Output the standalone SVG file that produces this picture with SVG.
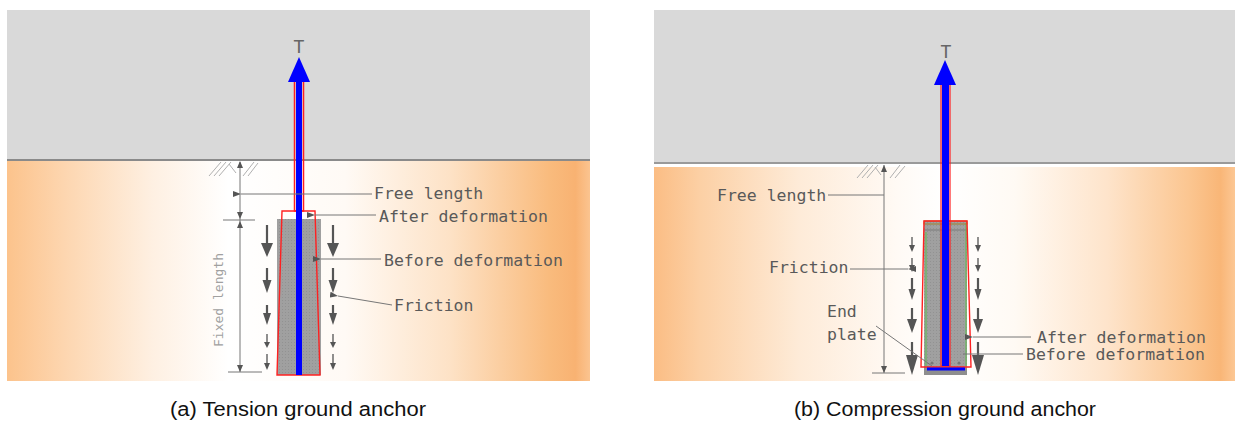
<svg xmlns="http://www.w3.org/2000/svg" width="1235" height="421" viewBox="0 0 1235 421">
  <defs>
    <linearGradient id="soilA" x1="0" y1="0" x2="1" y2="0">
      <stop offset="0" stop-color="#fcc38c"/>
      <stop offset="0.1" stop-color="#fdd6b0"/>
      <stop offset="0.25" stop-color="#fef0e2"/>
      <stop offset="0.38" stop-color="#ffffff"/>
      <stop offset="0.58" stop-color="#fffaf5"/>
      <stop offset="0.76" stop-color="#fde2c6"/>
      <stop offset="0.93" stop-color="#f9bb7d"/>
      <stop offset="0.975" stop-color="#f8b272"/>
      <stop offset="1" stop-color="#fbc490"/>
    </linearGradient>
    <linearGradient id="soilB" x1="0" y1="0" x2="1" y2="0">
      <stop offset="0" stop-color="#fbbd84"/>
      <stop offset="0.08" stop-color="#fcd0a5"/>
      <stop offset="0.25" stop-color="#feebd8"/>
      <stop offset="0.42" stop-color="#fffaf5"/>
      <stop offset="0.5" stop-color="#ffffff"/>
      <stop offset="0.62" stop-color="#fffaf4"/>
      <stop offset="0.78" stop-color="#fee4cb"/>
      <stop offset="0.92" stop-color="#fbc691"/>
      <stop offset="0.975" stop-color="#f9b677"/>
      <stop offset="1" stop-color="#fcc794"/>
    </linearGradient>
    <pattern id="grout" width="3" height="3" patternUnits="userSpaceOnUse">
      <rect width="3" height="3" fill="#a0a0a0"/>
      <rect width="1" height="1" fill="#929292"/>
    </pattern>
    <marker id="lead" viewBox="0 0 8 6" refX="0" refY="3" markerWidth="8" markerHeight="6" orient="auto-start-reverse" markerUnits="userSpaceOnUse">
      <path d="M0,3 L8,0 L8,6 Z" fill="#555"/>
    </marker>
  </defs>
  <style>
    .lbl { font-family: "DejaVu Sans Mono", "Liberation Mono", monospace; font-size: 16.5px; fill: #595959; }
    .tt { font-family: "DejaVu Sans Mono", "Liberation Mono", monospace; font-size: 18px; fill: #666; text-anchor: middle; }
    .cap { font-family: "Liberation Sans", Arial, sans-serif; font-size: 19.5px; fill: #111; }
    .ln { stroke: #777; stroke-width: 1; fill: none; }
    .hatch { stroke: #b0b0b0; stroke-width: 1; fill: none; }
    .fa { stroke: #555; stroke-width: 2.2; fill: none; }
    .fd { stroke: #555; stroke-width: 1.3; fill: none; }
    .fh { fill: #555; }
    .red { stroke: #ff2020; stroke-width: 1.4; fill: none; }
    .rod { fill: #0000ff; }
  </style>

  <!-- (a) tension anchor: sky and soil -->
  <g id="panel-a">
    <rect x="7" y="10" width="583" height="150" fill="#d9d9d9"/>
    <rect x="7" y="160" width="583" height="221" fill="url(#soilA)"/>
    <line x1="7" y1="160" x2="590" y2="160" stroke="#8a8a8a" stroke-width="2"/>
    <path class="hatch" d="M209,176 L221,162 M214,176 L226,162 M219,176 L231,162 M229,164 L236,173 M243,176 L254,162 M248,176 L258,163"/>
  </g>

  <!-- (a) grout body, tendon and pull-out force -->
  <g id="anchor-a">
    <rect x="277" y="219" width="44" height="156" fill="url(#grout)"/>
    <polygon class="red" points="282,211 315,211 320,375 277,375"/>
    <rect x="294.5" y="80" width="9" height="131" fill="none" stroke="#ff2020" stroke-width="1.5"/>
    <rect class="rod" x="296" y="80" width="6" height="295"/>
    <polygon class="rod" points="299,57 310,82 288,82"/>
    <text class="tt" x="299" y="53">T</text>
  </g>

  <!-- (a) friction arrows -->
  <g id="friction-a">
    <path class="fa" d="M267,225 V245 M333,225 V245"/>
    <polygon class="fh" points="261,243 273,243 267,257"/>
    <polygon class="fh" points="327,243 339,243 333,257"/>
    <path class="fa" d="M267,268 V282 M333,268 V282"/>
    <polygon class="fh" points="262.5,280 271.5,280 267,293"/>
    <polygon class="fh" points="328.5,280 337.5,280 333,293"/>
    <path class="fa" d="M267,305 V315 M333,305 V315"/>
    <polygon class="fh" points="263,313 271,313 267,325"/>
    <polygon class="fh" points="329,313 337,313 333,325"/>
    <path class="fd" d="M267,334 V343 M333,334 V343"/>
    <polygon class="fh" points="264,342 270,342 267,348"/>
    <polygon class="fh" points="330,342 336,342 333,348"/>
    <path class="fd" d="M267,354 V364 M333,354 V364"/>
    <polygon class="fh" points="264,363 270,363 267,370"/>
    <polygon class="fh" points="330,363 336,363 333,370"/>
  </g>

  <!-- (a) labels -->
  <g id="labels-a">
    <text class="lbl" x="374" y="199">Free length</text>
    <text class="lbl" x="379" y="222">After deformation</text>
    <text class="lbl" x="384" y="266">Before deformation</text>
    <text class="lbl" x="394" y="311">Friction</text>
    <text transform="translate(223,300) rotate(-90)" text-anchor="middle" font-family="DejaVu Sans Mono, Liberation Mono, monospace" font-size="13" fill="#a0a0a0">Fixed length</text>
    <text class="cap" x="170" y="416" textLength="256" lengthAdjust="spacingAndGlyphs">(a) Tension ground anchor</text>
  </g>

  <!-- (b) compression anchor: sky and soil -->
  <g id="panel-b">
    <rect x="654" y="10" width="581" height="153" fill="#d9d9d9"/>
    <rect x="654" y="163" width="581" height="4" fill="#ffffff"/>
    <rect x="654" y="167" width="581" height="214" fill="url(#soilB)"/>
    <line x1="654" y1="163" x2="1235" y2="163" stroke="#9a9a9a" stroke-width="2"/>
    <path class="hatch" d="M857,178 L868,165 M862,178 L873,165 M867,178 L878,165 M875,167 L881,175 M890,178 L900,165 M895,178 L905,166"/>
  </g>

  <!-- (b) grout body, tendon, end plate and pull-out force -->
  <g id="anchor-b">
    <rect x="924" y="221" width="43" height="154" fill="url(#grout)"/>
    <rect x="924" y="367" width="43" height="8" fill="#8e8e8e"/>
    <line x1="924" y1="230" x2="967" y2="230" stroke="#7a7a7a" stroke-width="1"/>
    <path d="M926,232 V366 M966,223 V366" stroke="#5cbf4c" stroke-width="1" fill="none"/>
    <rect x="924" y="221" width="43" height="3" fill="none" stroke="#a08030" stroke-width="1"/>
    <polygon class="red" points="924,221 967,221 971,367 921,367"/>
    <rect x="941" y="82" width="9" height="284" fill="none" stroke="#ff2020" stroke-width="1.2"/>
    <rect class="rod" x="942" y="82" width="7" height="284"/>
    <rect class="rod" x="927" y="367.5" width="38" height="3"/>
    <circle cx="932" cy="363" r="1.5" fill="#777"/>
    <circle cx="959" cy="363" r="1.5" fill="#777"/>
    <polygon class="rod" points="945,60 956,85 934,85"/>
    <text class="tt" x="946" y="58">T</text>
  </g>

  <!-- (b) friction arrows -->
  <g id="friction-b">
    <path class="fd" d="M912,237 V246 M978,237 V246"/>
    <polygon class="fh" points="909,245 915,245 912,252"/>
    <polygon class="fh" points="975,245 981,245 978,252"/>
    <path class="fd" d="M912,258 V266 M978,258 V266"/>
    <polygon class="fh" points="909,265 915,265 912,272"/>
    <polygon class="fh" points="975,265 981,265 978,272"/>
    <path class="fa" d="M912,278 V290 M978,278 V290"/>
    <polygon class="fh" points="908.5,289 915.5,289 912,300"/>
    <polygon class="fh" points="974.5,289 981.5,289 978,300"/>
    <path class="fa" d="M912,308 V320 M978,308 V320"/>
    <polygon class="fh" points="907,319 917,319 912,333"/>
    <polygon class="fh" points="973,319 983,319 978,333"/>
    <path class="fa" d="M912,342 V356 M978,342 V356"/>
    <polygon class="fh" points="906,355 918,355 912,375"/>
    <polygon class="fh" points="972,355 984,355 978,375"/>
  </g>

  <!-- (b) labels -->
  <g id="labels-b">
    <text class="lbl" x="717" y="201">Free length</text>
    <text class="lbl" x="769" y="273">Friction</text>
    <text class="lbl" x="827" y="317">End</text>
    <text class="lbl" x="827" y="340">plate</text>
    <text class="lbl" x="1037" y="343">After deformation</text>
    <text class="lbl" x="1026" y="360">Before deformation</text>
    <text class="cap" x="794" y="416" textLength="302" lengthAdjust="spacingAndGlyphs">(b) Compression ground anchor</text>
  </g>

  <!-- leaders and dimension lines -->
  <g id="connectors">
    <!-- (a) free / fixed length dimensions -->
    <line class="ln" x1="240" y1="162" x2="240" y2="372"/>
    <path d="M240,161 L237,168 L243,168 Z M240,219 L237,212 L243,212 Z M240,221 L237,228 L243,228 Z M240,372 L237,365 L243,365 Z" fill="#555"/>
    <line class="ln" x1="223" y1="220" x2="255" y2="220"/>
    <line class="ln" x1="228" y1="372" x2="262" y2="372"/>
    <line class="ln" x1="241" y1="194" x2="372" y2="194" marker-start="url(#lead)"/>
    <line class="ln" x1="315" y1="215" x2="376" y2="215" marker-start="url(#lead)"/>
    <line class="ln" x1="321" y1="259" x2="381" y2="259" marker-start="url(#lead)"/>
    <line class="ln" x1="338" y1="296" x2="392" y2="305" marker-start="url(#lead)"/>
    <!-- (b) free length dimension -->
    <line class="ln" x1="884" y1="165" x2="884" y2="373"/>
    <path d="M884,165 L881,172 L887,172 Z M884,373 L881,366 L887,366 Z" fill="#555"/>
    <line class="ln" x1="872" y1="373" x2="905" y2="373"/>
    <line class="ln" x1="828" y1="195" x2="884" y2="195"/>
    <line class="ln" x1="908" y1="269" x2="850" y2="269" marker-start="url(#lead)"/>
    <line class="ln" x1="876" y1="326" x2="932" y2="366"/>
    <line class="ln" x1="973" y1="337" x2="1031" y2="337" marker-start="url(#lead)"/>
    <line class="ln" x1="963" y1="354" x2="1023" y2="354"/>
  </g>
</svg>
